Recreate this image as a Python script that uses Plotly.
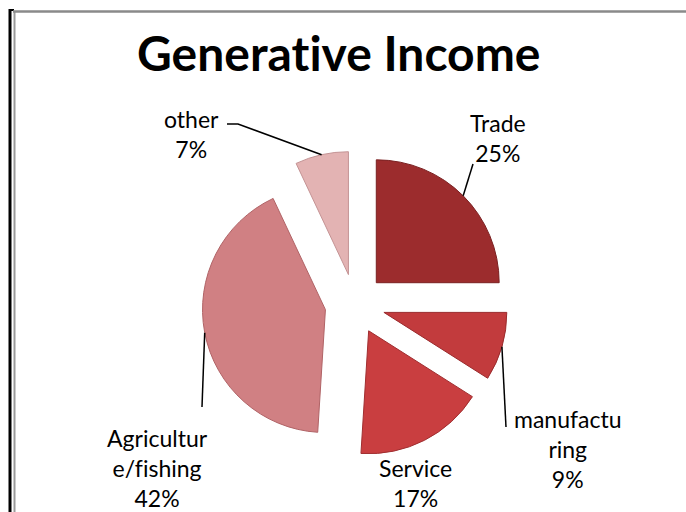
import math
import plotly.graph_objects as go

# Income sources
categories = ["Trade", "manufacturing", "Service", "Agriculture/fishing", "other"]
shares = [25, 9, 17, 42, 7]
# wrapped label text; \u200c keeps "fi" from forming a ligature
label_text = ["Trade", "manufactu<br>ring", "Service", "Agricultur<br>e/f\u200cishing", "other"]
colors = ["#9c2c2d", "#c23b3d", "#c93e40", "#d08083", "#e3b3b3"]
edge_colors = ["#7a2021", "#9a2b2d", "#a02e30", "#b06366", "#c49394"]

W, H = 686, 512
PULL = 0.245
# pie domain in pixels (left, top, right, bottom)
DOM = (202, 151, 508, 457)

FONT = "Lato, 'Open Sans', Arial, sans-serif"


def px(x):
    return x / W


def py(y):
    return 1 - y / H


fig = go.Figure(go.Pie(
    labels=categories,
    values=shares,
    sort=False,
    direction="clockwise",
    rotation=0,
    pull=[PULL] * len(shares),
    marker=dict(colors=colors, line=dict(color=edge_colors, width=1)),
    textinfo="none",
    hoverinfo="label+percent",
    showlegend=False,
    domain=dict(x=[px(DOM[0]), px(DOM[2])], y=[py(DOM[3]), py(DOM[1])]),
))

# pie geometry derived from the domain and the pull
cx = (DOM[0] + DOM[2]) / 2
cy = (DOM[1] + DOM[3]) / 2
r = min(DOM[2] - DOM[0], DOM[3] - DOM[1]) / (2 + 2 * PULL)
total = sum(shares)


def arc_mid(i):
    """Point on the outer arc of slice i, at its bisector, after the pull."""
    start = sum(shares[:i]) / total * 360
    mid = math.radians(start + shares[i] / total * 180)
    ox = cx + PULL * r * math.sin(mid)
    oy = cy - PULL * r * math.cos(mid)
    return ox + r * math.sin(mid), oy - r * math.cos(mid)


# label block centres and leader-line anchors, in pixels
label_pos = [(498, 138), (567, 449), (415, 483), (157, 468), (191, 134)]
leader_from = [[(473, 164)], [(506, 427)], None, [(202, 407)], [(227, 124), (238, 124)]]

annotations = [dict(
    text="<b>Generat\u200cive Income</b>", x=px(339), y=py(52), xref="paper", yref="paper",
    showarrow=False, xanchor="center", yanchor="middle",
    font=dict(family=FONT, size=48, color="#000000"),
)]
shapes = []
for i, name in enumerate(label_text):
    pct = round(shares[i] / total * 100)
    lx, ly = label_pos[i]
    annotations.append(dict(
        text=f"{name}<br>{pct}%", x=px(lx), y=py(ly), xref="paper", yref="paper",
        showarrow=False, xanchor="center", yanchor="middle", align="center",
        font=dict(family=FONT, size=23, color="#000000"),
    ))
    if leader_from[i]:
        pts = leader_from[i] + [arc_mid(i)]
        path = "M " + " L ".join(f"{px(a)},{py(b)}" for a, b in pts)
        shapes.append(dict(type="path", path=path, xref="paper", yref="paper",
                           line=dict(color="#000000", width=1.5)))

# chart frame
shapes += [
    dict(type="line", x0=px(10), x1=px(10), y0=py(9), y1=py(512), xref="paper", yref="paper",
         line=dict(color="#000000", width=3)),
    dict(type="line", x0=px(9), x1=px(14), y0=py(10), y1=py(10), xref="paper", yref="paper",
         line=dict(color="#000000", width=2)),
    dict(type="line", x0=px(14.5), x1=px(14.5), y0=py(11), y1=py(512), xref="paper", yref="paper",
         line=dict(color="#9a9a9a", width=2)),
    dict(type="line", x0=px(13), x1=px(686), y0=py(11.5), y1=py(11.5), xref="paper", yref="paper",
         line=dict(color="#8a8a8a", width=2.5)),
]

fig.update_layout(
    width=W, height=H,
    margin=dict(l=0, r=0, t=0, b=0),
    paper_bgcolor="#ffffff",
    plot_bgcolor="#ffffff",
    annotations=annotations,
    shapes=shapes,
)

fig.write_html("out.html")
